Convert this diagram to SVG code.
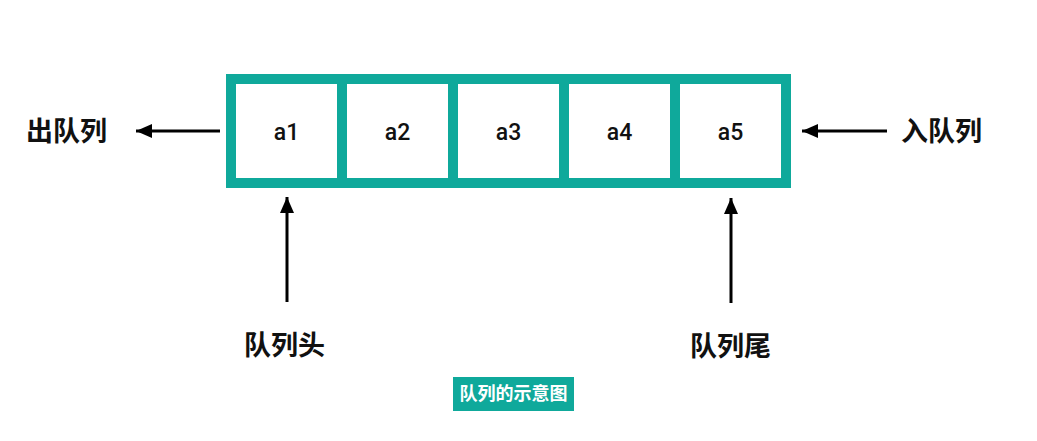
<svg xmlns="http://www.w3.org/2000/svg" width="1037" height="441" viewBox="0 0 1037 441">
<style>
.cell{fill:#ffffff;}
.val{font-family:Roboto,"Liberation Sans",sans-serif;font-size:23px;font-weight:500;fill:#111;text-anchor:middle;}
.lbl{font-family:"Noto Sans CJK SC",sans-serif;font-size:27px;font-weight:bold;fill:#111;}
.cap{font-family:"Noto Sans CJK SC",sans-serif;font-size:18px;font-weight:bold;fill:#ffffff;text-anchor:middle;}
.conn{stroke:#000;stroke-width:3;fill:none;marker-end:url(#ah);}
</style>
<defs>
<marker id="ah" markerUnits="userSpaceOnUse" markerWidth="18" markerHeight="14" refX="16" refY="7" orient="auto">
<path d="M0,0 L16,7 L0,14 Z" fill="#000"/>
</marker>
</defs>
<rect width="1037" height="441" fill="#ffffff"/>
<g id="queue">
<rect x="226" y="74" width="565" height="114" fill="#0fa99b"/>
<g id="a1"><rect class="cell" x="236" y="84" width="101" height="94"/><text class="val" x="286.5" y="140">a1</text></g>
<g id="a2"><rect class="cell" x="347" y="84" width="101" height="94"/><text class="val" x="397.5" y="140">a2</text></g>
<g id="a3"><rect class="cell" x="458" y="84" width="101" height="94"/><text class="val" x="508.5" y="140">a3</text></g>
<g id="a4"><rect class="cell" x="569" y="84" width="101" height="94"/><text class="val" x="619.5" y="140">a4</text></g>
<g id="a5"><rect class="cell" x="680" y="84" width="101" height="94"/><text class="val" x="730.5" y="140">a5</text></g>
</g>
<g id="dequeue"><text class="lbl" x="26" y="141">出队列</text></g>
<g id="enqueue"><text class="lbl" x="901" y="141">入队列</text></g>
<g id="head"><text class="lbl" x="244" y="355">队列头</text></g>
<g id="tail"><text class="lbl" x="690" y="356">队列尾</text></g>
<g id="caption"><rect x="453" y="377" width="121" height="34" fill="#0fa99b"/><text class="cap" x="513.5" y="400">队列的示意图</text></g>
<g id="connectors">
<line class="conn" x1="220" y1="131" x2="136" y2="131"/>
<line class="conn" x1="887" y1="131" x2="802" y2="131"/>
<line class="conn" x1="287" y1="302" x2="287" y2="197"/>
<line class="conn" x1="731" y1="303" x2="731" y2="198"/>
</g>
</svg>
